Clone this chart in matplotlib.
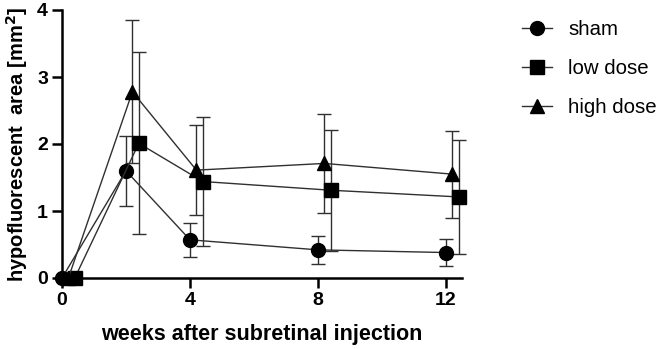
import matplotlib
matplotlib.use("Agg")
import matplotlib.pyplot as plt
from matplotlib.lines import Line2D
import numpy as np

plt.rcParams['font.family'] = ['Liberation Sans', 'DejaVu Sans']

weeks = [0, 2, 4, 8, 12]
sham = [0, 1.60, 0.57, 0.42, 0.38]
sham_err = [0, 0.52, 0.25, 0.21, 0.20]
low_dose = [0, 2.01, 1.44, 1.31, 1.21]
low_err = [0, 1.36, 0.96, 0.90, 0.85]
high_dose = [0, 2.78, 1.61, 1.71, 1.55]
high_err = [0, 1.07, 0.67, 0.74, 0.65]
series_names = ["sham", "low dose", "high dose"]

fig = plt.figure(figsize=(6.61, 3.49), dpi=100)
ax = fig.add_axes([62/661, 71/349, 400/661, 268/349])

w = np.array(weeks, dtype=float)
specs = [
    (sham, sham_err, 'o', 0.0, series_names[0]),
    (low_dose, low_err, 's', 0.4, series_names[1]),
    (high_dose, high_err, '^', 0.2, series_names[2]),
]
handles = []
for vals, err, m, off, name in specs:
    ms = 10 if m == 'o' else (9.5 if m == 's' else 10)
    eb = ax.errorbar(w + off, vals, yerr=err, fmt='-', marker=m, color='#303030',
                     mfc='black', mec='black', ms=ms, lw=1.0, elinewidth=1.0,
                     capsize=5, capthick=1.0, ecolor='#303030',
                     clip_on=False, zorder=3)
    eb.lines[0].set_clip_on(False)
    for c in eb.lines[1]:
        c.set_clip_on(False)
    for c in eb.lines[2]:
        c.set_clip_on(False)
    handles.append(Line2D([], [], color='#303030', lw=1.0, marker=m, mfc='black',
                          mec='black', ms=ms, label=name))

ax.set_xlim(0, 12.5)
ax.set_ylim(0, 4)
ax.set_xticks([0, 4, 8, 12])
ax.set_yticks([0, 1, 2, 3, 4])
for s in ['top', 'right']:
    ax.spines[s].set_visible(False)
for s in ['left', 'bottom']:
    ax.spines[s].set_linewidth(1.8)
ax.tick_params(axis='both', width=1.8, length=7, labelsize=14, pad=3)
for lab in ax.get_xticklabels() + ax.get_yticklabels():
    lab.set_fontweight('bold')

ax.set_xlabel("weeks after subretinal injection", fontsize=15.5, fontweight='bold', labelpad=11)
ax.set_ylabel("hypofluorescent  area [mm$^\\mathbf{2}$]", fontsize=14.5, fontweight='bold', labelpad=5)

leg = fig.legend(handles=handles, loc='upper left', bbox_to_anchor=(504/661, 1 - 2/349),
                 frameon=False, fontsize=14.7, handlelength=1.45, labelspacing=0.98,
                 handletextpad=0.8)

fig.savefig("out.png", dpi=100)
